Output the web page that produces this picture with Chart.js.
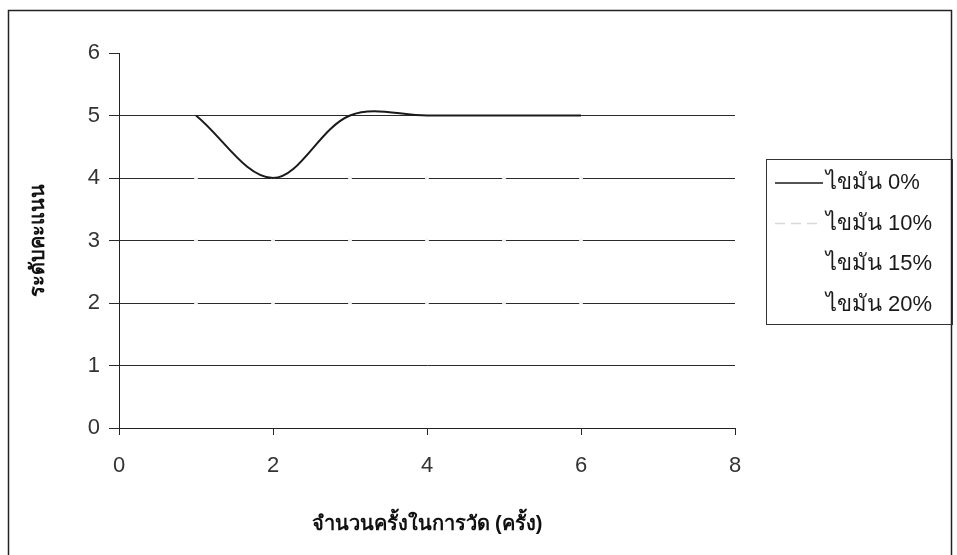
<!DOCTYPE html>
<html>
<head>
<meta charset="utf-8">
<script src="https://cdn.jsdelivr.net/npm/chart.js@4.4.1/dist/chart.umd.min.js"></script>
<style>
  html, body { margin: 0; padding: 0; background: #fff; }
  #wrap { position: relative; width: 957px; height: 555px; }
</style>
</head>
<body>
<div id="wrap"><canvas id="fatChart" width="957" height="555"></canvas></div>
<script>
// ค่าที่อ่านจากกราฟ
const rounds = [1, 2, 3, 4, 5, 6]
const fat0 = [5, 4, 5, 5, 5, 5]
const fat10 = [4, 4, 4, 4, 4, 4]
const fat15 = [3, 3, 3, 3, 3, 3]
const fat20 = [2, 2, 2, 2, 2, 2]
const seriesNames = ['ไขมัน 0%', 'ไขมัน 10%', 'ไขมัน 15%', 'ไขมัน 20%']
const xTicks = [0, 2, 4, 6, 8]
const yTicks = [0, 1, 2, 3, 4, 5, 6]

const fontFamily = 'Arial, "Liberation Sans", "Noto Sans", sans-serif'

function toPoints(values) {
    return rounds.map((r, i) => ({ x: r, y: values[i] }))
}

// ชุดข้อมูลที่แทบมองไม่เห็นในภาพ (เหลือแค่รอยจุดสีขาวบนเส้นกริด)
const faint = {
    borderColor: 'rgba(235,235,235,0.0)',
    borderWidth: 1,
    pointRadius: 2,
    pointBorderWidth: 0,
    pointBackgroundColor: '#f4f4f4',
    tension: 0.35
}

const data = {
    datasets: [
        {
            label: seriesNames[0],
            data: toPoints(fat0),
            borderColor: '#1a1a1a',
            borderWidth: 2,
            pointRadius: 0,
            tension: 0.35,
            legendColor: '#1a1a1a'
        },
        Object.assign({ label: seriesNames[1], data: toPoints(fat10), legendColor: '#d8d8d8', legendDash: [10, 6] }, faint),
        Object.assign({ label: seriesNames[2], data: toPoints(fat15), legendColor: 'rgba(0,0,0,0)' }, faint),
        Object.assign({ label: seriesNames[3], data: toPoints(fat20), legendColor: 'rgba(0,0,0,0)' }, faint)
    ]
}

// กรอบนอก + คำอธิบายสัญลักษณ์แบบ Excel
const framePlugin = {
    id: 'frame',
    beforeDraw(chart) {
        const ctx = chart.ctx
        ctx.save()
        ctx.fillStyle = '#fff'
        ctx.fillRect(0, 0, chart.width, chart.height)
        ctx.strokeStyle = '#222'
        ctx.lineWidth = 1.5
        ctx.strokeRect(8.5, 10.5, 943, 550)
        ctx.restore()
    },
    afterDraw(chart) {
        const ctx = chart.ctx
        ctx.save()
        ctx.strokeStyle = '#333'
        ctx.lineWidth = 1
        ctx.strokeRect(766.5, 159.5, 186, 165)
        ctx.font = '22px ' + fontFamily
        ctx.textBaseline = 'middle'
        ctx.fillStyle = '#1a1a1a'
        chart.data.datasets.forEach((ds, i) => {
            const y = 183 + i * 40.5
            ctx.beginPath()
            ctx.setLineDash(ds.legendDash || [])
            ctx.strokeStyle = ds.legendColor
            ctx.lineWidth = 1.5
            ctx.moveTo(775, y)
            ctx.lineTo(823, y)
            ctx.stroke()
            ctx.setLineDash([])
            ctx.fillText(ds.label, 826, y)
        })
        ctx.restore()
    }
}

const config = {
    type: 'line',
    data: data,
    options: {
        responsive: false,
        animation: false,
        layout: { padding: { left: 0, top: 53, right: 222, bottom: 0 } },
        plugins: {
            legend: { display: false },
            tooltip: { enabled: false }
        },
        scales: {
            x: {
                type: 'linear',
                min: 0,
                max: 8,
                afterBuildTicks: (scale) => { scale.ticks = xTicks.map(v => ({ value: v })) },
                afterFit: (scale) => { scale.height = 127 },
                grid: { drawOnChartArea: false, color: '#222', tickLength: 7, tickColor: '#222' },
                border: { color: '#222', width: 1 },
                ticks: { color: '#333', font: { family: fontFamily, size: 22 }, padding: 18, maxRotation: 0 },
                title: {
                    display: true,
                    text: 'จำนวนครั้งในการวัด (ครั้ง)',
                    color: '#111',
                    font: { family: fontFamily, size: 20, weight: 'bold' },
                    padding: { top: 0, bottom: 19 }
                }
            },
            y: {
                min: 0,
                max: 6,
                afterBuildTicks: (scale) => { scale.ticks = yTicks.map(v => ({ value: v })) },
                afterFit: (scale) => { scale.width = 119 },
                grid: {
                    color: (c) => (c.tick && c.tick.value === 6 ? 'rgba(0,0,0,0)' : '#2a2a2a'),
                    tickColor: '#2a2a2a',
                    tickLength: 10,
                    lineWidth: 1
                },
                border: { color: '#222', width: 1 },
                ticks: { color: '#333', font: { family: fontFamily, size: 22 }, padding: 9 },
                title: {
                    display: true,
                    text: 'ระดับคะแนน',
                    color: '#111',
                    font: { family: fontFamily, size: 20, weight: 'bold' },
                    padding: { top: 26, bottom: 0 }
                }
            }
        }
    },
    plugins: [framePlugin]
}

const ctxFat = document.getElementById('fatChart').getContext('2d')
new Chart(ctxFat, config)
</script>
</body>
</html>
